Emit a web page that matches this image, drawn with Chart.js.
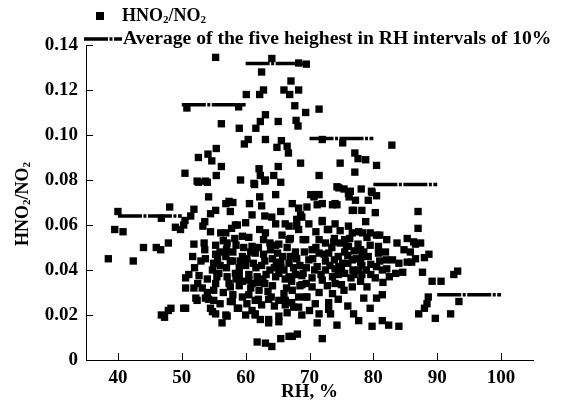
<!DOCTYPE html>
<html>
<head>
<meta charset="utf-8">
<script src="https://cdn.jsdelivr.net/npm/chart.js@4.4.1/dist/chart.umd.min.js"></script>
<style>
html,body{margin:0;padding:0;background:#fff}
#wrap{width:566px;height:404px}
</style>
</head>
<body>
<div id="wrap"><canvas id="rhChart" width="566" height="404"></canvas></div>
<script>
// axis ticks
const xTicks = [40, 50, 60, 70, 80, 90, 100];
const yTicks = [0, 0.02, 0.04, 0.06, 0.08, 0.10, 0.12, 0.14];

// average of the five highest per 10% RH bin
const avgFrom  = [40, 50, 60, 70, 80, 90];
const avgTo    = [50, 60, 70, 80, 90, 100];
const avgValue = [0.064, 0.1135, 0.1318, 0.0985, 0.078, 0.029];

// HNO2/NO2 samples: [RH %, ratio]
const samples = [
  // RH < 50
  [38.5,0.045],[39.5,0.058],[40.8,0.057],[40.0,0.066],[42.4,0.044],[44.0,0.050],[46.0,0.050],[46.7,0.049],
  [47.9,0.052],[46.8,0.063],[48.1,0.068],[46.8,0.020],[47.9,0.022],[47.3,0.019],[49.0,0.059],[49.8,0.058],
  [48.3,0.023],
  // 50-60
  [55.3,0.1345],[50.8,0.112],[58.9,0.1125],[56.2,0.105],[59.0,0.103],[59.8,0.096],[55.4,0.094],[52.6,0.090],
  [54.1,0.0915],[54.7,0.0885],[56.2,0.086],[50.5,0.083],[52.6,0.079],[54.0,0.079],[55.4,0.082],[59.2,0.080],
  [54.2,0.0725],[52.4,0.0795],[53.7,0.0795],[57.4,0.0705],[57.6,0.066],[51.4,0.064],[50.3,0.060],[50.5,0.062],
  [51.9,0.067],[53.6,0.0615],[53.3,0.0595],[54.5,0.065],[56.9,0.0695],[58.0,0.070],[55.3,0.0665],[51.9,0.0515],
  [51.7,0.046],[50.6,0.0365],[50.6,0.032],[51.9,0.032],[50.6,0.023],[52.2,0.0275],[53.6,0.049],[53.7,0.045],
  [55.3,0.051],[55.3,0.047],[54.8,0.040],[55.8,0.0385],[55.0,0.031],[53.7,0.0275],[55.0,0.0265],[54.5,0.023],
  [55.3,0.0205],[56.3,0.0165],[56.9,0.0565],[57.8,0.0585],[57.1,0.052],[58.4,0.060],[56.9,0.046],[57.6,0.044],
  [57.1,0.037],[58.4,0.0385],[57.6,0.0325],[57.9,0.026],[58.7,0.023],[57.1,0.0195],[59.5,0.028],[59.5,0.055],
  [59.7,0.050],[59.5,0.046],[58.7,0.060],[56.1,0.0565],[51.1,0.038],[52.7,0.0375],[53.2,0.032],[55.3,0.034],
  [57.4,0.034],[52.4,0.0265],[54.2,0.027],[50.3,0.023],[57.6,0.026],[58.9,0.023],[54.8,0.0215],[56.9,0.020],
  [53.5,0.052],[52.0,0.041],[53.0,0.044],[54.0,0.036],[56.0,0.042],[58.0,0.048],[59.0,0.041],[52.5,0.034],
  [58.3,0.054],[59.2,0.044],[55.6,0.045],[54.5,0.057],[57.0,0.049],[58.5,0.036],[56.5,0.030],[59.0,0.033],
  [55.0,0.043],[56.0,0.048],[57.0,0.041],[58.0,0.044],[59.0,0.038],[55.5,0.037],[56.5,0.053],[58.5,0.051],
  [59.5,0.035],[58.0,0.029],[56.0,0.025],[54.0,0.030],
  // 60-70
  [64.1,0.134],[68.3,0.132],[69.5,0.1315],[62.5,0.128],[67.1,0.124],[68.3,0.120],[66.0,0.120],[66.9,0.118],
  [62.8,0.120],[62.2,0.118],[60.1,0.118],[67.7,0.113],[69.4,0.110],[63.1,0.109],[62.3,0.106],[65.1,0.106],
  [67.9,0.1065],[68.2,0.104],[61.6,0.103],[60.4,0.098],[63.1,0.098],[65.6,0.0975],[64.9,0.0945],[66.5,0.095],
  [66.7,0.092],[62.1,0.085],[62.3,0.082],[63.1,0.080],[61.4,0.078],[64.4,0.082],[65.1,0.086],[65.5,0.079],
  [68.6,0.0875],[64.7,0.0735],[61.3,0.0785],[63.0,0.0795],
  [61.0,0.0645],[62.5,0.0685],[60.8,0.048],[60.0,0.042],[60.5,0.038],[61.0,0.034],[62.1,0.031],[60.2,0.025],
  [61.0,0.022],[61.5,0.020],[62.3,0.018],[61.8,0.008],[63.1,0.0075],[64.1,0.006],[65.5,0.0095],[66.8,0.0105],
  [68.1,0.0115],[63.6,0.0165],[65.2,0.0195],[63.6,0.027],[63.1,0.0565],[64.7,0.0605],[63.9,0.049],[65.2,0.0515],
  [64.2,0.045],[65.8,0.046],[65.2,0.0385],[66.2,0.036],[66.8,0.043],[67.3,0.031],[68.3,0.028],[68.3,0.0235],
  [66.2,0.0245],[67.3,0.0695],[68.6,0.0645],[68.3,0.058],[69.9,0.0605],[69.4,0.0535],[69.9,0.0445],[68.8,0.0335],
  [69.4,0.028],[66.2,0.0265],[67.5,0.0235],[67.3,0.0105],[68.3,0.0675],[68.0,0.0595],[64.1,0.0635],[66.8,0.0595],
  [65.7,0.0555],[68.8,0.0635],[62.8,0.0535],[64.7,0.051],[67.8,0.048],[62.8,0.047],[61.5,0.0475],[64.8,0.0435],
  [61.6,0.041],[63.8,0.040],[60.5,0.0355],[62.7,0.036],[64.7,0.037],[66.8,0.037],[62.0,0.0345],[64.2,0.033],
  [66.4,0.032],[68.5,0.033],[61.5,0.0265],[65.2,0.0265],[67.2,0.0255],[69.6,0.028],[61.5,0.0205],[63.6,0.018],
  [65.2,0.017],[60.0,0.061],[62.2,0.058],[66.2,0.0605],[60.5,0.0545],[67.0,0.054],[69.6,0.068],[62.2,0.0725],
  [60.6,0.0695],[63.0,0.064],[66.8,0.0535],[61.0,0.0505],[63.0,0.044],[65.5,0.041],[67.5,0.041],[69.0,0.0385],
  [68.0,0.045],[65.0,0.0475],[63.5,0.0305],[66.0,0.0295],[64.5,0.024],[62.5,0.0245],[60.5,0.029],[69.0,0.0535],
  [65.5,0.066],[68.0,0.0625],
  [60.2,0.045],[61.2,0.043],[62.0,0.050],[62.5,0.042],[63.2,0.038],[63.8,0.052],[64.5,0.041],[61.8,0.037],
  [60.8,0.032],[63.0,0.034],[65.5,0.043],[66.5,0.050],[67.0,0.046],[67.8,0.038],[68.5,0.042],[69.2,0.048],
  [69.5,0.041],[66.0,0.040],[67.2,0.035],[68.8,0.0375],[69.5,0.034],[62.0,0.027],[64.0,0.028],[66.5,0.021],
  [68.8,0.020],[60.0,0.020],
  // 70-80
  [71.5,0.1115],[72.0,0.098],[75.2,0.0965],[71.5,0.082],[74.8,0.0875],[77.1,0.092],[77.6,0.0895],[78.8,0.089],
  [77.1,0.0835],[74.3,0.077],[75.4,0.076],[76.1,0.074],[78.1,0.076],[79.7,0.075],[70.9,0.0735],[71.5,0.0735],
  [70.2,0.0735],[76.4,0.075],[79.8,0.0745],[72.0,0.0695],[74.3,0.069],[76.9,0.0665],[79.2,0.071],[78.8,0.0615],
  [72.0,0.0615],[72.8,0.058],[73.8,0.0525],[76.1,0.0595],[77.7,0.057],[79.5,0.0565],[76.1,0.0505],[78.0,0.049],
  [79.5,0.051],[70.7,0.0725],[71.2,0.069],[73.6,0.069],[72.0,0.062],[73.0,0.058],[73.0,0.0475],[70.4,0.049],
  [71.2,0.0415],[70.4,0.0365],[70.9,0.025],[71.5,0.0205],[71.2,0.0165],[72.0,0.0095],[74.3,0.0155],[73.3,0.0205],
  [73.0,0.0255],[73.6,0.0295],[75.4,0.031],[76.7,0.0325],[78.0,0.035],[79.5,0.023],[76.9,0.0205],[77.7,0.0175],
  [79.8,0.015],[76.7,0.0445],[77.7,0.040],[74.6,0.0415],[73.6,0.037],[72.0,0.0355],[70.4,0.0325],[73.0,0.0225],
  [74.6,0.0765],[76.2,0.0725],[77.2,0.071],[74.0,0.0695],[76.7,0.0665],[78.2,0.0665],[74.0,0.0605],[74.8,0.0575],
  [76.7,0.0565],[78.3,0.0565],[73.9,0.054],[75.8,0.0505],[77.6,0.0515],[73.9,0.0445],[76.0,0.0465],[78.2,0.046],
  [76.0,0.043],[78.2,0.042],[79.6,0.0425],[74.0,0.0405],[76.8,0.040],[78.9,0.040],[78.2,0.038],[79.6,0.038],
  [71.5,0.0475],[72.5,0.052],[75.0,0.0335],[71.5,0.030],[72.5,0.044],[75.5,0.0385],[78.5,0.0275],[74.5,0.027],
  [76.0,0.024],[71.0,0.057],[71.5,0.0535],[75.5,0.0535],[77.0,0.0485],[79.0,0.0545],[72.5,0.040],[74.0,0.034],
  [76.5,0.0365],[79.0,0.0325],
  [70.5,0.045],[71.0,0.050],[71.8,0.038],[72.3,0.047],[73.2,0.042],[73.5,0.050],[74.5,0.046],[74.8,0.052],
  [70.8,0.040],[72.8,0.033],[74.5,0.038],[75.2,0.043],[75.5,0.048],[76.3,0.054],[77.3,0.045],[78.5,0.048],
  [79.2,0.046],[77.0,0.038],[75.0,0.040],[78.0,0.0435],[70.0,0.022],
  // RH >= 80
  [82.9,0.0955],[80.5,0.0865],[80.3,0.0655],[87.0,0.066],[87.0,0.0585],[82.1,0.0535],[83.7,0.052],[85.3,0.054],
  [86.3,0.0525],[87.4,0.052],[84.8,0.049],[85.8,0.048],[86.6,0.045],[88.7,0.047],[84.0,0.043],[85.3,0.0435],
  [84.6,0.039],[87.7,0.039],[89.2,0.035],[90.6,0.035],[92.6,0.038],[93.2,0.0395],[93.4,0.026],[92.1,0.0205],
  [89.7,0.0185],[88.6,0.028],[88.4,0.025],[88.0,0.023],[87.1,0.0205],[82.1,0.0405],[81.4,0.029],[81.4,0.0175],
  [82.4,0.0155],[84.0,0.015],[80.8,0.0475],[80.3,0.0365],[81.4,0.040],[81.9,0.048],[80.8,0.0505],[81.0,0.044],
  [82.0,0.0445],[81.0,0.0555],[83.0,0.0445],[80.5,0.0415],[82.5,0.037],[83.5,0.0385],[80.5,0.073],[81.5,0.0345],
  [80.5,0.0555],[86.6,0.0515],[88.0,0.0455],[86.0,0.0435],[80.5,0.0275]
];

const FONT = '"Liberation Serif", "Times New Roman", serif';
const DASH = [24, 1.5, 3, 1.5];

// text with subscripts: parts = [[text, isSub], ...]
function drawSub(ctx, parts, x, y, size, measureOnly) {
  let w = 0;
  parts.forEach(p => {
    const sub = p[1];
    ctx.font = 'bold ' + (sub ? Math.round(size * 0.62) : size) + 'px ' + FONT;
    if (!measureOnly) ctx.fillText(p[0], x + w, y + (sub ? size * 0.22 : 0));
    w += ctx.measureText(p[0]).width;
  });
  return w;
}

const ratioLabel = [['HNO', false], ['2', true], ['/NO', false], ['2', true]];

const decor = {
  id: 'decor',
  afterDraw(chart) {
    const ctx = chart.ctx;
    const xs = chart.scales.x, ys = chart.scales.y;
    const area = chart.chartArea;
    ctx.save();
    ctx.strokeStyle = '#000';
    ctx.lineWidth = 1;
    // inward ticks
    ctx.beginPath();
    xTicks.forEach(v => {
      const px = Math.round(xs.getPixelForValue(v)) + 0.5;
      ctx.moveTo(px, area.bottom);
      ctx.lineTo(px, area.bottom - 7);
    });
    yTicks.forEach(v => {
      const py = Math.round(ys.getPixelForValue(v)) + 0.5;
      ctx.moveTo(area.left, py);
      ctx.lineTo(area.left + 7, py);
    });
    ctx.stroke();

    // legend
    ctx.fillStyle = '#000';
    ctx.textBaseline = 'middle';
    ctx.textAlign = 'left';
    ctx.fillRect(96, 12, 8, 8);
    drawSub(ctx, ratioLabel, 122, 16, 18, false);
    ctx.lineWidth = 3.5;
    ctx.setLineDash(DASH);
    ctx.beginPath();
    ctx.moveTo(84, 39);
    ctx.lineTo(122, 39);
    ctx.stroke();
    ctx.setLineDash([]);
    ctx.save();
    ctx.translate(123, 39);
    ctx.scale(1.09, 1);
    ctx.font = 'bold 18px ' + FONT;
    ctx.fillText('Average of the five heighest in RH intervals of 10%', 0, 0);
    ctx.restore();

    // y axis title
    ctx.translate(23, 204);
    ctx.rotate(-Math.PI / 2);
    const w = drawSub(ctx, ratioLabel, 0, 0, 18, true);
    drawSub(ctx, ratioLabel, -w / 2, 0, 18, false);
    ctx.restore();
  }
};

const datasets = [{
  label: 'HNO2/NO2',
  data: samples.map(p => ({x: p[0], y: p[1]})),
  pointStyle: 'rect',
  pointRadius: 5.2,
  pointHoverRadius: 5.2,
  backgroundColor: '#000',
  borderWidth: 0,
  showLine: false
}];
avgFrom.forEach((x0, i) => {
  datasets.push({
    label: 'avg' + i,
    data: [{x: x0, y: avgValue[i]}, {x: avgTo[i], y: avgValue[i]}],
    showLine: true,
    borderColor: '#000',
    borderWidth: 3.5,
    borderDash: DASH,
    pointRadius: 0,
    fill: false
  });
});

const tickFont = {family: FONT, size: 19, weight: 'bold'};

new Chart('rhChart', {
  type: 'scatter',
  data: {datasets},
  options: {
    responsive: false,
    animation: false,
    devicePixelRatio: 1,
    layout: {padding: {left: 0, top: 45, right: 33, bottom: 0}},
    plugins: {legend: {display: false}, tooltip: {enabled: false}},
    scales: {
      x: {
        type: 'linear', min: 35, max: 105,
        afterFit: s => { s.height = 44; },
        afterBuildTicks: s => { s.ticks = xTicks.map(v => ({value: v})); },
        grid: {display: false, drawTicks: false},
        border: {display: true, color: '#000', width: 1},
        ticks: {color: '#000', padding: 7, maxRotation: 0, font: tickFont},
        title: {display: true, text: 'RH, %', color: '#000', padding: {top: 0, bottom: 1}, font: tickFont}
      },
      y: {
        type: 'linear', min: 0, max: 0.14,
        afterFit: s => { s.width = 86; },
        afterBuildTicks: s => { s.ticks = yTicks.map(v => ({value: v})); },
        grid: {display: false, drawTicks: false},
        border: {display: true, color: '#000', width: 1},
        ticks: {color: '#000', padding: 8, font: tickFont,
          callback: v => v === 0 ? '0' : v.toFixed(2)}
      }
    }
  },
  plugins: [decor]
});
</script>
</body>
</html>
